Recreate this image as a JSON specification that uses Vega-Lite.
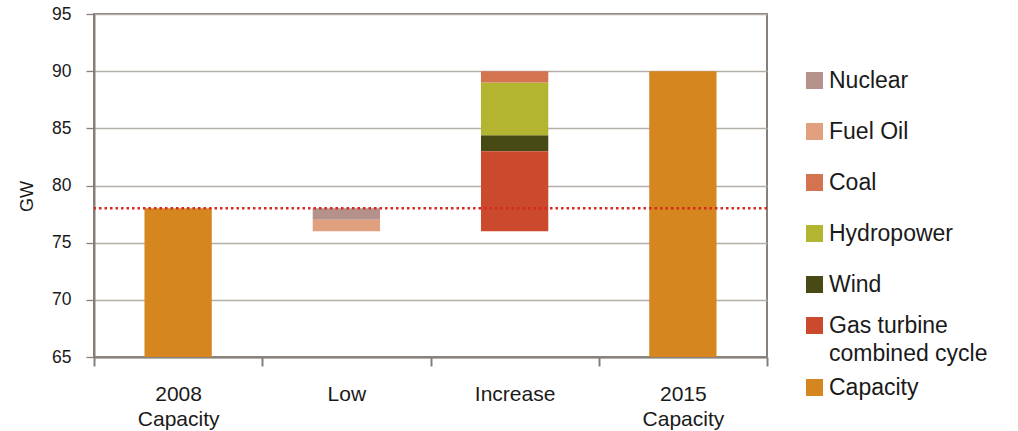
{
  "$schema": "https://vega.github.io/schema/vega-lite/v6.json",
  "width": 673,
  "height": 343,
  "autosize": {"type": "none"},
  "padding": {"left": 94, "top": 14, "right": 251, "bottom": 74},
  "background": "white",
  "config": {
    "font": "Liberation Sans",
    "view": {"stroke": "#877f79", "strokeWidth": 2},
    "style": {"guide-label": {"lineHeight": 28}},
    "axis": {
      "labelColor": "#1a1a1a",
      "titleColor": "#1a1a1a",
      "domainColor": "#877f79",
      "domainWidth": 2,
      "tickColor": "#877f79",
      "tickWidth": 2
    },
    "legend": {
      "title": null,
      "orient": "none",
      "padding": 0,
      "symbolType": "square",
      "symbolSize": 289,
      "symbolStrokeWidth": 0,
      "symbolOpacity": 1,
      "labelFontSize": 23,
      "labelColor": "#1a1a1a",
      "labelOffset": 3,
      "labelLimit": 300
    }
  },
  "data": {
    "values": [
      {"stage": "2008 Capacity", "source": "Capacity", "bottom": 0, "top": 78},
      {"stage": "Low", "source": "Nuclear", "bottom": 77, "top": 78},
      {"stage": "Low", "source": "Fuel Oil", "bottom": 76, "top": 77},
      {"stage": "Increase", "source": "Gas turbine combined cycle", "bottom": 76, "top": 83},
      {"stage": "Increase", "source": "Wind", "bottom": 83, "top": 84.4},
      {"stage": "Increase", "source": "Hydropower", "bottom": 84.4, "top": 89},
      {"stage": "Increase", "source": "Coal", "bottom": 89, "top": 90},
      {"stage": "2015 Capacity", "source": "Capacity", "bottom": 0, "top": 90}
    ]
  },
  "layer": [
    {
      "transform": [
        {"filter": "indexof(['Nuclear', 'Fuel Oil', 'Coal', 'Hydropower', 'Wind'], datum.source) >= 0"}
      ],
      "mark": {"type": "bar", "clip": true, "width": {"band": 0.4}},
      "encoding": {
        "x": {
          "field": "stage",
          "type": "nominal",
          "sort": ["2008 Capacity", "Low", "Increase", "2015 Capacity"],
          "scale": {
            "domain": ["2008 Capacity", "Low", "Increase", "2015 Capacity"],
            "paddingInner": 0,
            "paddingOuter": 0
          },
          "axis": {
            "title": null,
            "labelAngle": 0,
            "tickBand": "extent",
            "tickSize": 9,
            "labelExpr": "split(datum.label, ' ')",
            "labelLineHeight": 25,
            "labelFontSize": 21,
            "labelBaseline": "top",
            "labelPadding": 17,
            "grid": false
          }
        },
        "y": {
          "field": "top",
          "type": "quantitative",
          "scale": {"domain": [65, 95], "nice": false, "zero": false},
          "axis": {
            "values": [65, 70, 75, 80, 85, 90, 95],
            "grid": true,
            "gridColor": "#b4aea9",
            "gridWidth": 1.3,
            "tickSize": 8,
            "tickWidth": 1.3,
            "labelFontSize": 17.5,
            "labelPadding": 15,
            "title": "GW",
            "titleFontSize": 18,
            "titleFontWeight": "normal",
            "titleAngle": -90,
            "titleAlign": "center",
            "titleBaseline": "middle",
            "titleX": -67,
            "titleY": 182
          }
        },
        "y2": {"field": "bottom"},
        "color": {
          "field": "source",
          "type": "nominal",
          "scale": {
            "domain": ["Nuclear", "Fuel Oil", "Coal", "Hydropower", "Wind"],
            "range": ["#b5918b", "#e0a07e", "#d37350", "#b3b42f", "#484a16"]
          },
          "legend": {"legendX": 709, "legendY": 55, "rowPadding": 27}
        }
      }
    },
    {
      "transform": [
        {"filter": "indexof(['Gas turbine combined cycle', 'Capacity'], datum.source) >= 0"}
      ],
      "mark": {"type": "bar", "clip": true, "width": {"band": 0.4}},
      "encoding": {
        "x": {
          "field": "stage",
          "type": "nominal",
          "sort": ["2008 Capacity", "Low", "Increase", "2015 Capacity"]
        },
        "y": {"field": "top", "type": "quantitative"},
        "y2": {"field": "bottom"},
        "color": {
          "field": "source",
          "type": "nominal",
          "scale": {
            "domain": ["Gas turbine combined cycle", "Capacity"],
            "range": ["#cb4a2e", "#d6861f"]
          },
          "legend": {
            "legendX": 709,
            "legendY": 300,
            "rowPadding": 10,
            "labelExpr": "datum.label == 'Gas turbine combined cycle' ? ['Gas turbine', 'combined cycle'] : datum.label"
          }
        }
      }
    },
    {
      "data": {"values": [{"level": 78}]},
      "mark": {"type": "rule", "color": "#d42a20", "strokeWidth": 2.5, "strokeDash": [2.5, 3]},
      "encoding": {"y": {"field": "level", "type": "quantitative"}}
    }
  ],
  "resolve": {"scale": {"color": "independent"}, "legend": {"color": "independent"}}
}
